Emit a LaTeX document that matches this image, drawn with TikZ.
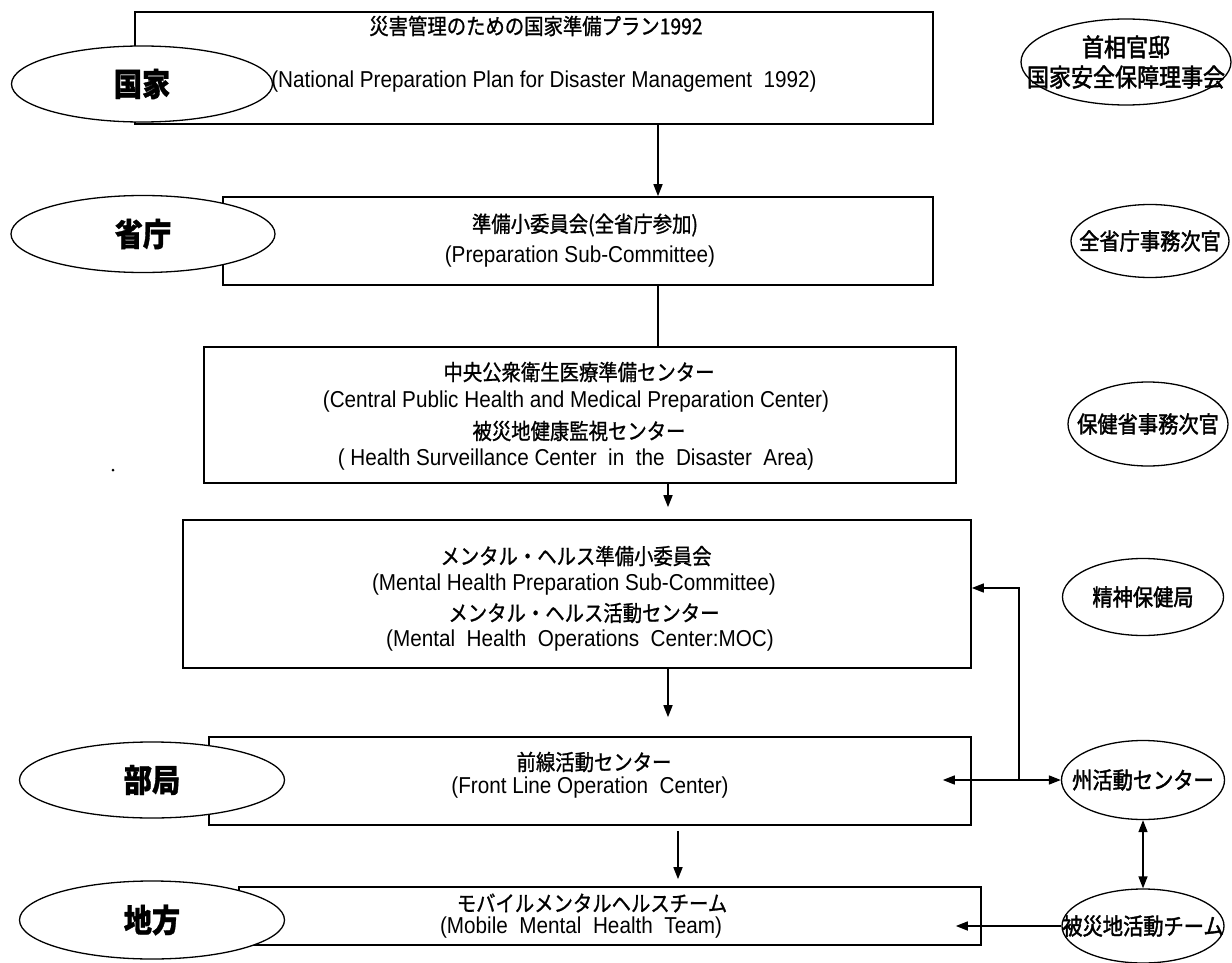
\documentclass[tikz,border=0pt]{standalone}
\usepackage{fontspec}
\setmainfont{Liberation Sans}[FakeStretch=0.9]
\newfontfamily\jp{Noto Sans CJK JP}[FakeStretch=0.88,FakeBold=1]
\newfontfamily\jpm{Noto Sans CJK JP}[FakeStretch=0.88,FakeBold=1.8]
\usetikzlibrary{shapes.geometric,arrows.meta}
\tikzset{
  boxst/.style={draw, line width=1.6pt, rectangle, inner sep=0pt},
  lvl/.style={draw, ellipse, fill=white, line width=1.3pt, inner sep=0pt},
  lvltxt/.style={font=\jp\bfseries\fontsize{32}{36}\selectfont, inner sep=0pt},
  org/.style={draw, ellipse, fill=white, line width=1.3pt, inner sep=0pt},
  orgtxt/.style={font=\jpm\fontsize{23}{30}\selectfont, inner sep=0pt},
  jtxt/.style={font=\jp\fontsize{22}{26}\selectfont, inner sep=0pt},
  etxt/.style={font=\fontsize{23}{26}\selectfont, inner sep=0pt},
  ln/.style={line width=1.5pt},
  arr/.style={line width=1.5pt, -{Triangle[length=12pt,width=9pt]}},
  darr/.style={line width=1.5pt, {Triangle[length=12pt,width=9pt]}-{Triangle[length=12pt,width=9pt]}}
}
\begin{document}
\begin{tikzpicture}[x=1pt,y=-1pt]
\fill[white] (0,0) rectangle (1232,963);
\useasboundingbox (0,0) rectangle (1232,963);

% boxes
\node[boxst, minimum width=798pt, minimum height=112pt] (b1) at (534,68) {};
\node[boxst, minimum width=710pt, minimum height=88pt]  (b2) at (578,241) {};
\node[boxst, minimum width=752pt, minimum height=136pt] (b3) at (580,415) {};
\node[boxst, minimum width=788pt, minimum height=148pt] (b4) at (577,594) {};
\node[boxst, minimum width=762pt, minimum height=88pt]  (b5) at (590,781) {};
\node[boxst, minimum width=742pt, minimum height=58pt]  (b6) at (610,916) {};

% box texts
\node[jtxt] (t1a) at (536,26) {災害管理のための国家準備プラン1992};
\node[etxt] (t1b) at (544,82) {(National Preparation Plan for Disaster Management~ 1992)};
\node[jtxt] (t2a) at (585,225) {準備小委員会(全省庁参加)};
\node[etxt] (t2b) at (580,257) {(Preparation Sub-Committee)};
\node[jtxt] (t3a) at (579,372) {中央公衆衛生医療準備センター};
\node[etxt] (t3b) at (576,402) {(Central Public Health and Medical Preparation Center)};
\node[jtxt] (t3c) at (579,431) {被災地健康監視センター};
\node[etxt] (t3d) at (576,460) {( Health Surveillance Center~ in~ the~ Disaster~ Area)};
\node[jtxt] (t4a) at (576,556) {メンタル・ヘルス準備小委員会};
\node[etxt] (t4b) at (574,585) {(Mental Health Preparation Sub-Committee)};
\node[jtxt] (t4c) at (584,613) {メンタル・ヘルス活動センター};
\node[etxt] (t4d) at (580,641) {(Mental~ Health~ Operations~ Center:MOC)};
\node[jtxt] (t5a) at (594,762) {前線活動センター};
\node[etxt] (t5b) at (590,788) {(Front Line Operation~ Center)};
\node[jtxt] (t6a) at (592,903) {モバイルメンタルヘルスチーム};
\node[etxt] (t6b) at (581,928) {(Mobile~ Mental~ Health~ Team)};

% level ellipses (left)
\node[lvl, minimum width=261pt, minimum height=76pt, label={[lvltxt]center:国家}] (e1) at (142,84) {};
\node[lvl, minimum width=264pt, minimum height=77pt, label={[lvltxt]center:省庁}] (e2) at (143,234) {};
\node[lvl, minimum width=265pt, minimum height=76pt, label={[lvltxt]center:部局}] (e3) at (152,780) {};
\node[lvl, minimum width=265pt, minimum height=78pt, label={[lvltxt]center:地方}] (e4) at (152,920) {};

% organisation ellipses (right)
\node[org, minimum width=210pt, minimum height=86pt,
      label={[orgtxt, font=\jpm\fontsize{25}{30}\selectfont, align=center]center:首相官邸\\国家安全保障理事会}] (r1) at (1126,62) {};
\node[org, minimum width=158pt, minimum height=73pt, label={[orgtxt]center:全省庁事務次官}] (r2) at (1150,241) {};
\node[org, minimum width=160pt, minimum height=84pt, label={[orgtxt]center:保健省事務次官}] (r3) at (1148,424) {};
\node[org, minimum width=161pt, minimum height=77pt, label={[orgtxt]center:精神保健局}] (r4) at (1143,597) {};
\node[org, minimum width=163pt, minimum height=79pt, label={[orgtxt]center:州活動センター}] (r5) at (1143,780) {};
\node[org, minimum width=162pt, minimum height=74pt, label={[orgtxt]center:被災地活動チーム}] (r6) at (1143,926) {};

% vertical flow
\coordinate (c1) at (658,0);
\coordinate (c2) at (668,0);
\coordinate (c3) at (678,0);
\draw[arr] (b1.south -| c1) -- (b2.north -| c1);
\draw[ln] (b2.south -| c1) -- (b3.north -| c1);
\draw[arr, shorten >=12pt] (b3.south -| c2) -- (b4.north -| c2);
\draw[arr, shorten >=19pt] (b4.south -| c2) -- (b5.north -| c2);
\draw[arr, shorten <=5pt, shorten >=7pt] (b5.south -| c3) -- (b6.north -| c3);

% right side connectors
\coordinate (b5in) at ([xshift=-29pt]b5.east);
\coordinate (b6in) at ([xshift=-26pt]b6.east);
\coordinate (j) at (1019,0);
\draw[darr] (b5in |- r5.west) -- (r5.west);
\draw[arr] (j |- r5.west) |- ([yshift=6pt]b4.east);
\draw[darr] (r5.south) -- (r6.north);
\draw[arr] (r6.west) -- (b6in |- r6.west);

% stray dot
\fill (113,470) circle (1.5pt);
\end{tikzpicture}
\end{document}
